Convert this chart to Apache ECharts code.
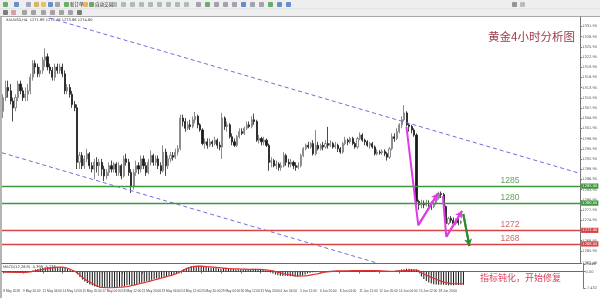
<!DOCTYPE html>
<html><head><meta charset="utf-8">
<script src="https://cdn.jsdelivr.net/npm/echarts@6/dist/echarts.min.js"></script>
<style>html,body{margin:0;padding:0;background:#fff}#c{width:600px;height:298px}</style>
</head><body><div id="c"></div>
<script>
// ---------- data ----------
const timeLabels = ['8 May 2018','9 May 20:00','11 May 04:00','14 May 12:00','15 May 20:00','17 May 04:00',
  '18 May 12:00','21 May 20:00','23 May 04:00','24 May 12:00','25 May 20:00','29 May 04:00','30 May 12:00',
  '31 May 20:00','4 Jun 04:00','5 Jun 12:00','6 Jun 20:00','8 Jun 04:00','11 Jun 12:00','12 Jun 20:00',
  '14 Jun 04:00','15 Jun 12:00','18 Jun 20:00','20 Jun 04:00'];

// [open, close, low, high] per 4H bar
const candles = [
[1307,1311,1305,1312],[1311,1314,1310,1316],[1314,1313,1311,1316],[1313,1310,1309,1315],[1310,1308,1304,1311],
[1308,1311,1307,1312],[1311,1315,1310,1316],[1315,1313,1312,1316],[1313,1311,1310,1314],[1311,1312,1310,1314],
[1312,1313,1310,1315],[1313,1317,1312,1318],[1317,1321,1316,1322],[1321,1320,1318,1322],[1320,1318,1317,1321],
[1318,1319,1317,1320],[1319,1322,1318,1323],[1322,1323,1320,1325.5],[1323,1320,1319,1324],[1320,1319,1318,1321],
[1319,1317,1316,1320],[1317,1320,1316,1321],[1320,1319,1318,1321],[1319,1320,1318,1321],[1320,1318,1317,1321],
[1318,1313,1312,1319],[1313,1314,1312,1315],[1314,1312,1311,1315],[1312,1309,1308,1313],[1309,1308,1307,1310],
[1308,1292,1290,1309],[1292,1294,1290,1295],[1294,1291,1290,1295],[1291,1293,1290,1294],[1293,1294.5,1292,1296],
[1294.5,1291,1290,1295],[1291,1290,1289,1292],[1290,1292,1287,1293],[1292,1291,1289,1293.5],[1291,1292,1288,1293],
[1292,1290,1288,1293],[1290,1288,1286.5,1291],[1288,1289,1287,1290],[1289,1291,1288,1292],[1291,1290,1289,1292.5],
[1290,1291.5,1289,1292],[1291.5,1289,1288,1292],[1289,1291,1288,1292],[1291,1288,1287,1291.5],[1288,1293,1287.5,1294],
[1293,1292,1291,1294.5],[1292,1289,1288,1293],[1289,1285,1283,1290],[1285,1289,1284,1290],[1289,1291,1288,1292.5],
[1291,1290,1288.5,1292],[1290,1293,1289,1294],[1293,1291,1290,1294],[1291,1289,1288,1292],[1289,1292,1288.5,1293],
[1292,1294,1291,1295.5],[1294,1292,1291,1294.5],[1292,1293,1291,1294],[1293,1291,1290,1294],[1291,1289.5,1288.5,1292],
[1289.5,1295,1289,1297],[1295,1291,1288,1296],[1291,1293,1290,1294],[1293,1294,1292,1295],[1294,1293.5,1292.5,1295],
[1293.5,1295,1293,1296],[1295,1296,1294,1297],[1296,1305,1295.5,1306],[1305,1304,1302.5,1306],[1304,1302,1301,1305],
[1302,1303,1301.5,1304],[1303,1302.5,1301.5,1304.5],[1302.5,1304.5,1302,1305.5],[1304.5,1305.5,1303.5,1306.8],[1305.5,1303,1302,1306],
[1303,1301.5,1301,1303.5],[1301.5,1297.5,1297,1302],[1297.5,1298,1296,1299],[1298,1297,1296,1299],[1297,1298,1296.5,1299],
[1298,1297.5,1296.5,1298.5],[1297.5,1298.5,1297,1299.5],[1298.5,1297,1296,1299],[1297,1296.5,1295.5,1298],[1296.5,1305,1293,1306.5],
[1305,1302.5,1301.5,1305.5],[1302.5,1303,1301,1304],[1303,1299.5,1299,1303.5],[1299.5,1298,1297,1300.5],[1298,1297,1296.5,1299],
[1297,1299.5,1296.5,1300],[1299.5,1301,1299,1302],[1301,1300.5,1300,1302],[1300.5,1302,1300,1302.5],[1302,1303,1301.5,1304],
[1303,1302.5,1302,1304],[1302.5,1304.5,1302,1305.5],[1304.5,1304,1303,1306.3],[1304,1298.5,1298,1304.5],[1298.5,1299,1297.5,1300],
[1299,1298,1297,1299.5],[1298,1298.5,1297,1299.5],[1298.5,1297,1296.5,1299],[1297,1292,1289.5,1297.5],[1292,1292.5,1290.5,1293.5],
[1292.5,1291,1290.5,1293],[1291,1291.5,1290,1292.5],[1291.5,1290.5,1289.5,1292],[1290.5,1291,1289.5,1292],[1291,1294,1290.5,1295],
[1294,1292,1291,1294.5],[1292,1291.5,1290.5,1293],[1291.5,1292,1290.5,1293],[1292,1291,1290,1292.5],[1291,1290.5,1289.5,1292],
[1290.5,1291,1290,1292],[1291,1294,1290.5,1294.5],[1294,1296,1293.5,1296.5],[1296,1297,1295.5,1297.5],[1297,1296.5,1296,1298],
[1296.5,1297.5,1296,1298],[1297.5,1294.5,1294,1298.5],[1294.5,1297,1294,1301.5],[1297,1296,1295.5,1298],[1296,1297,1295.5,1297.5],
[1297,1296.5,1295.5,1298],[1296.5,1297.5,1296,1298.5],[1297.5,1297,1296,1302.4],[1297,1297.5,1296.5,1298.5],[1297.5,1296.5,1296,1298],
[1296.5,1297,1296,1298],[1297,1296,1295,1297.5],[1296,1295,1294.5,1296.5],[1295,1297.5,1294.5,1298],[1297.5,1298.5,1297,1299.5],
[1298.5,1298,1297,1299],[1298,1299,1297.5,1299.5],[1299,1297.5,1297,1299.5],[1297.5,1296.5,1296,1298],[1296.5,1299,1296,1299.5],
[1299,1300,1298.5,1300.8],[1300,1298.5,1298,1300.5],[1298.5,1298,1297,1299],[1298,1297,1296.5,1298.5],[1297,1297.5,1296,1298],
[1297.5,1296.5,1296,1298],[1296.5,1294.5,1294,1297],[1294.5,1295,1294,1295.8],[1295,1294.8,1294.2,1295.6],[1294.8,1295.2,1294.2,1295.8],
[1295.2,1294.5,1293.8,1295.8],[1294.5,1293.5,1292.5,1295],[1293.5,1296,1293,1296.5],[1296,1299.5,1295.5,1300.5],[1299.5,1299,1298,1300.5],
[1299,1301,1298.5,1302],[1301,1303,1300.5,1303.5],[1303,1304.5,1302,1305.5],[1304.5,1306.5,1304,1308.8],[1306.5,1303,1302.5,1307],
[1303,1302.5,1301,1303.5],[1302.5,1301.5,1300.5,1303],[1301.5,1300,1299.5,1302],[1300,1280.5,1279.3,1300.5],[1280.5,1279.5,1278,1281],
[1279.5,1280,1278.5,1281],[1280,1279.5,1278.5,1280.8],[1279.5,1280,1279,1281],[1280,1279.8,1278.8,1280.8],[1279.8,1279,1278,1280.5],
[1279,1280,1278.5,1280.8],[1280,1281.5,1279.5,1282],[1281.5,1282.8,1281,1283.4],[1282.8,1282.5,1281.5,1283.4],[1282.5,1279,1278.8,1283],
[1279,1274,1273.5,1279.3],[1274,1275.5,1273.5,1276],[1275.5,1275,1274.2,1276.2],[1275,1274,1273.5,1275.8],[1274,1275,1273.5,1275.5],
[1275,1274.2,1273.5,1275.5],[1274.2,1274.6,1273.8,1275]
];

// MACD(12,26,9): main (histogram) and signal (red line)
const macdMain = [
-0.3,-0.4,-0.5,-0.5,-0.6,-0.5,-0.3,-0.2,-0.2,-0.3,-0.2,0.1,
0.5,0.9,1.2,1.5,1.7,1.9,2.0,2.1,2.0,2.0,2.1,2.1,1.9,1.6,1.2,0.8,0.4,0.0,-1.2,
-2.5,-3.6,-4.5,-5.2,-5.8,-6.3,-6.7,-7.0,-7.2,-7.3,
-7.4,-7.4,-7.3,-7.2,-7.1,-7.0,-6.9,-6.8,-6.5,-6.2,
-6.0,-6.2,-6.0,-5.6,-5.3,-4.9,-4.6,-4.4,-4.1,-3.7,
-3.4,-3.1,-2.9,-2.8,-2.3,-2.2,-1.9,-1.6,-1.3,-1.0,-0.7,
0.4,1.2,1.7,2.1,2.4,2.6,2.7,2.7,2.6,2.4,2.2,2.0,1.9,1.7,
1.6,1.4,1.2,1.6,1.7,1.6,1.4,1.2,1.0,1.0,1.0,1.0,1.1,1.2,1.2,
1.3,1.3,1.0,0.8,0.7,0.5,0.3,-0.4,-0.9,-1.3,
-1.6,-1.9,-2.0,-1.9,-2.0,-2.1,-2.1,-2.2,-2.3,-2.2,
-1.8,-1.3,-0.9,-0.6,-0.3,-0.3,-0.1,0.0,0.1,0.2,
0.3,0.4,0.4,0.4,0.4,0.3,0.2,0.3,0.4,0.5,0.5,0.5,0.4,0.5,0.6,0.6,0.6,0.5,0.4,0.3,
0.1,0.0,0.0,-0.1,-0.1,-0.2,0.0,0.3,0.5,0.7,
0.9,1.1,1.3,1.3,1.2,1.1,1.0,-0.3,
-2.2,-3.4,-4.3,-4.9,-5.4,-5.7,-5.9,-6.0,-6.0,-6.0,-6.1,-6.2,-6.2,-6.2,-6.1,-6.1,-6.0,-6.0
];
const macdSignal = [
-0.2,-0.2,-0.3,-0.3,-0.3,-0.4,-0.4,-0.4,-0.4,-0.4,-0.3,-0.1,
0.1,0.3,0.6,0.8,1.0,1.2,1.4,1.6,1.7,1.9,2.0,2.0,2.0,
1.8,1.5,1.1,0.6,0.1,-0.6,-1.6,-2.6,-3.5,-4.2,-4.8,-5.4,-6.0,-6.6,-7.0,-7.2,
-7.3,-7.4,-7.4,-7.4,-7.3,-7.2,-7.1,-7.0,-6.9,-6.8,
-6.6,-6.3,-6.1,-5.8,-5.5,-5.2,-5.0,-4.7,-4.4,-4.1,
-3.8,-3.5,-3.2,-2.9,-2.6,-2.3,-2.0,-1.7,-1.3,-0.9,-0.4,
0.2,0.8,1.3,1.7,2.1,2.3,2.4,2.5,2.5,2.4,2.3,2.2,2.1,2.0,
1.9,1.8,1.7,1.6,1.5,1.4,1.3,1.3,1.2,1.2,1.1,1.1,1.1,1.0,1.0,
1.0,1.0,1.0,1.0,0.9,0.8,0.7,0.5,0.3,0.0,
-0.3,-0.6,-0.9,-1.1,-1.3,-1.5,-1.7,-1.9,-2.0,-2.0,
-2.0,-1.9,-1.8,-1.6,-1.4,-1.2,-1.0,-0.7,-0.5,-0.3,
-0.1,0.0,0.1,0.2,0.3,0.3,0.3,0.3,0.3,0.3,0.4,0.4,0.4,0.4,0.4,0.5,0.5,0.5,0.5,0.5,
0.4,0.4,0.3,0.2,0.2,0.1,0.1,0.1,0.2,0.3,
0.3,0.4,0.5,0.6,0.7,0.7,0.7,0.4,
-0.5,-1.1,-1.6,-2.1,-2.6,-3.0,-3.5,-3.9,-4.3,-4.7,-5.0,-5.2,-5.4,-5.5,-5.5,-5.6,-5.6,-5.5
];

const priceTicks = [1331.95,1328.95,1325.95,1322.95,1319.95,1316.95,1313.95,1310.95,1307.95,1304.95,1301.95,
  1298.95,1295.95,1292.95,1289.95,1286.95,1283.95,1280.95,1277.95,1274.95,1271.95,1268.95,1265.95,1262.40];
const priceMin = 1262.4, priceMax = 1334.7;
const macdMin = -7.432, macdMax = 3.446;

const supportLevels = [1285, 1280];     // green
const targetLevels = [1272, 1268];      // red
const currentPrice = 1274.60;

// annotation lines: [bar index, price]
const channelUpper = [[18.85, 1334.4], [234.1, 1288.8]];
const channelLower = [[-0.5, 1294.8], [160, 1260.7]];
const waveArrow1 = [[163.9, 1302.4], [168.7, 1273.5], [176.7, 1282.9]];
const waveArrow2 = [[178.7, 1282.1], [180.1, 1270.1], [186.5, 1277.7]];
const targetArrow = [[187.0, 1276.8], [189.5, 1267.4]];

const titleText = '黄金4小时分析图';
const noteText = '指标钝化，开始修复';
const headerText = 'XAUUSD,H4  1271.89 1275.48 1273.86 1274.60';
const macdHeader = 'MACD(12,26,9) -5.399 -5.236';

// ---------- chart ----------
const SLOTS = 235;
const cats = Array.from({length: SLOTS}, (_, i) => String(i));
const LABEL_STEP = 8;
const isLabelIdx = i => i % LABEL_STEP === 0 && i / LABEL_STEP < timeLabels.length;
const LEVEL_TEXT_X = 206;
const GREEN = '#3c963c', RED = '#d64545', MAGENTA = '#e03ce6', DGREEN = '#2f8a2f';
const CJK = '"Noto Sans CJK SC", sans-serif';
const SMALL = 3.6;

function levelLine(v, color, boxColor) {
  return {
    yAxis: v,
    lineStyle: {color: color, width: 1.4, type: 'solid', opacity: color ? 1 : 0},
    label: {show: true, position: 'end', distance: 1, formatter: () => v.toFixed(2),
      backgroundColor: boxColor, color: '#fff', fontSize: SMALL, padding: [0.6, 1.2], fontFamily: 'DejaVu Sans'}
  };
}
function arrowSeries(points, color) {
  const n = points.length;
  return {
    type: 'line', xAxisIndex: 2, yAxisIndex: 0, data: points, symbol: 'none', silent: true,
    lineStyle: {color: color, width: 2}, z: 10,
    markLine: {silent: true, symbol: ['none', 'arrow'], symbolSize: [6, 7], animation: false,
      lineStyle: {color: color, width: 2, type: 'solid'}, label: {show: false},
      data: [[{coord: points[n - 2]}, {coord: points[n - 1]}]]}
  };
}

const levelTexts = supportLevels.map(v => ({value: [LEVEL_TEXT_X, v], label: {color: '#3a8a3a'}}))
  .concat(targetLevels.map(v => ({value: [LEVEL_TEXT_X, v], label: {color: '#c8403f'}})));

const toolbarIcons = [];
[[3,2,'#3a9a3a'],[14,2,'#3b6fc0'],[26,2,'#8a8ab0'],[34,2,'#d0a030'],[41,2,'#e0b040'],[48,2,'#3b6fc0'],[55,2,'#8a8a8a'],
 [64,2,'#3a9a3a'],[83,2,'#e0a030'],[89,2,'#4a8a40'],[112,2,'#9aa'],[121,2,'#9aa'],[130,2,'#9aa'],[139,2,'#9aa'],[148,2,'#9aa'],
 [157,2,'#9aa'],[166,2,'#9aa'],[175,2,'#9aa'],[184,2,'#9aa'],[196,2,'#889'],[205,2,'#3a9a3a'],[214,2,'#889'],[223,2,'#889'],
 [232,2,'#889'],[241,2,'#3a6ac0'],[250,2,'#889'],[259,2,'#889'],[268,2,'#3a9a3a'],[277,2,'#3b6fc0'],[286,2,'#3b6fc0'],
 [3,10,'#555'],[11,10,'#c88'],[22,10,'#888'],[31,10,'#888'],[41,10,'#888'],[50,10,'#888'],[59,10,'#888'],[68,10,'#888'],[77,10,'#555'],
 [512,2,'#777'],[520,2,'#aaa']].forEach(([x, y, c]) => {
  toolbarIcons.push({type: 'rect', shape: {x: x, y: y, width: 5, height: 5, r: 1}, style: {fill: c, opacity: 0.75}});
});

const option = {
  animation: false,
  backgroundColor: '#ffffff',
  grid: [
    {left: 2, right: 15.5, top: 17, height: 246},
    {left: 2, right: 15.5, top: 264, height: 24}
  ],
  xAxis: [
    {type: 'category', gridIndex: 0, data: cats, boundaryGap: true,
      axisLine: {show: true, lineStyle: {color: '#6a6a6a', width: 1}}, axisTick: {show: false}, axisLabel: {show: false}, splitLine: {show: false}},
    {type: 'category', gridIndex: 1, data: cats, boundaryGap: true,
      axisLine: {show: true, lineStyle: {color: '#6a6a6a', width: 1}},
      axisTick: {show: true, interval: isLabelIdx, length: 2, alignWithLabel: true, lineStyle: {color: '#777'}},
      axisLabel: {show: true, interval: isLabelIdx, formatter: (v, i) => timeLabels[i / LABEL_STEP] || '',
        showMinLabel: true, showMaxLabel: false, hideOverlap: false,
        align: 'left', fontSize: 3.2, color: '#444', margin: 2, fontFamily: 'Liberation Sans'},
      splitLine: {show: false}},
    {type: 'value', gridIndex: 0, min: -0.5, max: SLOTS - 0.5, show: false}
  ],
  yAxis: [
    {type: 'value', gridIndex: 0, position: 'right', min: priceMin, max: priceMax,
      axisLine: {show: true, onZero: false, lineStyle: {color: '#777', width: 1}},
      axisTick: {show: true, length: 2, customValues: priceTicks, lineStyle: {color: '#777'}},
      axisLabel: {customValues: priceTicks, fontSize: SMALL, color: '#555', margin: 2, formatter: v => v.toFixed(2), fontFamily: 'DejaVu Sans'},
      splitLine: {show: false}},
    {type: 'value', gridIndex: 1, position: 'right', min: macdMin, max: macdMax, interval: -macdMin,
      axisLine: {show: true, onZero: false, lineStyle: {color: '#777', width: 1}},
      axisTick: {show: true, length: 2, lineStyle: {color: '#777'}},
      axisLabel: {fontSize: SMALL, color: '#555', margin: 2, fontFamily: 'DejaVu Sans',
        formatter: v => (Math.abs(v) < 1e-9 ? '0.00' : v.toFixed(3))},
      splitLine: {show: false}}
  ],
  series: [
    {type: 'candlestick', name: 'XAUUSD', xAxisIndex: 0, yAxisIndex: 0, data: candles, barWidth: 1.6,
      itemStyle: {color: '#ffffff', color0: '#1a1a1a', borderColor: '#707070', borderColor0: '#1a1a1a', borderWidth: 0.8}},
    {type: 'line', xAxisIndex: 2, yAxisIndex: 0, data: channelUpper, symbol: 'none', silent: true, clip: true,
      lineStyle: {color: '#6f6fd8', width: 1, type: [4, 3]}},
    {type: 'line', xAxisIndex: 2, yAxisIndex: 0, data: channelLower, symbol: 'none', silent: true, clip: true,
      lineStyle: {color: '#6f6fd8', width: 1, type: [4, 3]}},
    {type: 'line', xAxisIndex: 2, yAxisIndex: 0, data: [], silent: true,
      markLine: {silent: true, symbol: 'none', animation: false,
        data: supportLevels.map(v => levelLine(v, GREEN, GREEN))
          .concat(targetLevels.map(v => levelLine(v, RED, RED)))
          .concat([levelLine(currentPrice, null, '#000')])}},
    {type: 'scatter', xAxisIndex: 2, yAxisIndex: 0, data: levelTexts, symbolSize: 0, silent: true,
      label: {show: true, position: 'top', distance: 1, fontSize: 8.5, fontFamily: 'Liberation Sans',
        formatter: p => String(p.value[1])}},
    arrowSeries(waveArrow1, MAGENTA),
    arrowSeries(waveArrow2, MAGENTA),
    arrowSeries(targetArrow, DGREEN),
    {type: 'bar', name: 'MACD', xAxisIndex: 1, yAxisIndex: 1, data: macdMain, barWidth: 1,
      itemStyle: {color: '#111'}},
    {type: 'line', name: 'Signal', xAxisIndex: 1, yAxisIndex: 1, data: macdSignal, symbol: 'none',
      lineStyle: {color: '#e03030', width: 1.2}}
  ],
  graphic: {elements: [
    {type: 'rect', shape: {x: 0, y: 0, width: 600, height: 16.5}, style: {fill: '#eeeeee'}, silent: true},
    {type: 'line', shape: {x1: 0, y1: 8.7, x2: 600, y2: 8.7}, style: {stroke: '#dadada', lineWidth: 0.6}},
    {type: 'line', shape: {x1: 0, y1: 16.5, x2: 600, y2: 16.5}, style: {stroke: '#a8a8a8', lineWidth: 1}},
    {type: 'group', children: toolbarIcons},
    {type: 'text', x: 70, y: 2.2, style: {text: '新订单', fontSize: 4.5, fill: '#222', fontFamily: CJK}},
    {type: 'text', x: 95, y: 2.2, style: {text: '自动交易', fontSize: 4.5, fill: '#222', fontFamily: CJK}},
    {type: 'rect', shape: {x: 0, y: 16.5, width: 2, height: 281.5}, style: {fill: '#b4b4b4'}},
    {type: 'text', x: 6, y: 18.5, style: {text: headerText, fontSize: SMALL, fill: '#333', fontFamily: 'DejaVu Sans'}},
    {type: 'text', x: 3, y: 265, style: {text: macdHeader, fontSize: SMALL, fill: '#333', fontFamily: 'DejaVu Sans'}},
    {type: 'text', x: 488, y: 31, style: {text: titleText, fontSize: 11.5, fill: '#9c3a4a', fontFamily: CJK}},
    {type: 'text', x: 480, y: 273.5, style: {text: noteText, fontSize: 9, fill: '#e0405a', fontFamily: CJK}}
  ]}
};

const chart = echarts.init(document.getElementById('c'), null, {renderer: 'canvas'});
chart.setOption(option);
</script>
</body></html>
